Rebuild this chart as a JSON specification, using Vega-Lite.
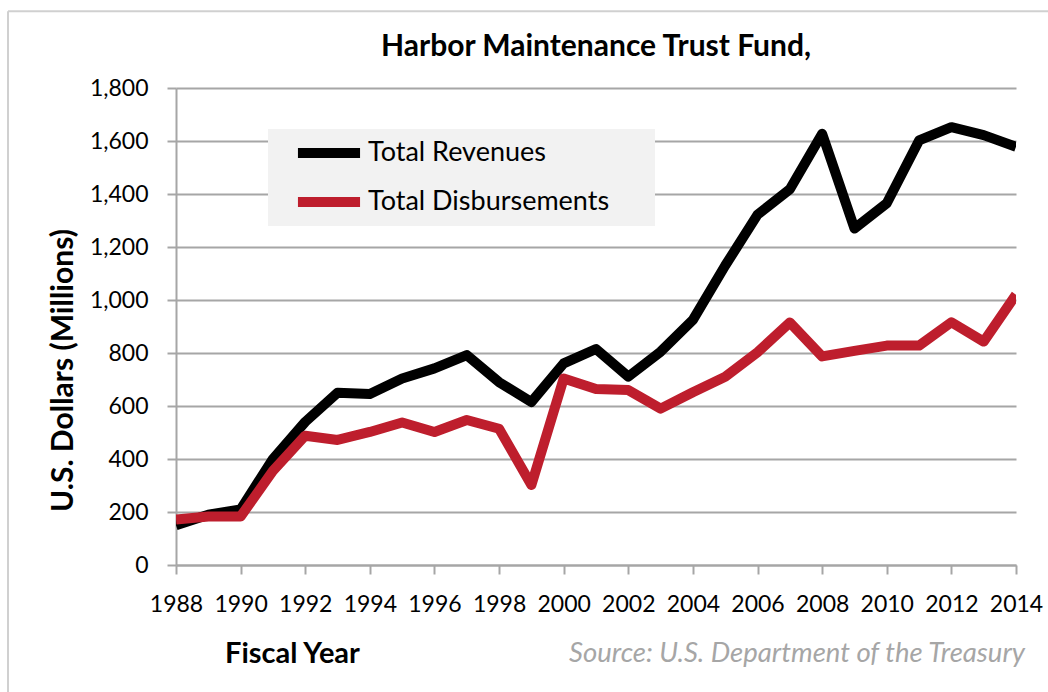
{
  "$schema": "https://vega.github.io/schema/vega-lite/v6.json",
  "autosize": "none",
  "width": 840,
  "height": 477,
  "padding": {"left": 176, "top": 88, "right": 32, "bottom": 127},
  "background": "#ffffff",
  "title": {
    "text": "Harbor Maintenance Trust Fund,",
    "font": "Lato",
    "fontSize": 30,
    "fontWeight": "bold",
    "color": "#000000",
    "anchor": "middle",
    "baseline": "alphabetic",
    "offset": -76
  },
  "data": {
    "values": [
      {"year": 1988, "series": "Total Revenues", "value": 150},
      {"year": 1989, "series": "Total Revenues", "value": 190},
      {"year": 1990, "series": "Total Revenues", "value": 210},
      {"year": 1991, "series": "Total Revenues", "value": 400},
      {"year": 1992, "series": "Total Revenues", "value": 540},
      {"year": 1993, "series": "Total Revenues", "value": 650},
      {"year": 1994, "series": "Total Revenues", "value": 645},
      {"year": 1995, "series": "Total Revenues", "value": 704},
      {"year": 1996, "series": "Total Revenues", "value": 742},
      {"year": 1997, "series": "Total Revenues", "value": 792},
      {"year": 1998, "series": "Total Revenues", "value": 690},
      {"year": 1999, "series": "Total Revenues", "value": 615},
      {"year": 2000, "series": "Total Revenues", "value": 761},
      {"year": 2001, "series": "Total Revenues", "value": 815},
      {"year": 2002, "series": "Total Revenues", "value": 711},
      {"year": 2003, "series": "Total Revenues", "value": 805},
      {"year": 2004, "series": "Total Revenues", "value": 925},
      {"year": 2005, "series": "Total Revenues", "value": 1130},
      {"year": 2006, "series": "Total Revenues", "value": 1322},
      {"year": 2007, "series": "Total Revenues", "value": 1418},
      {"year": 2008, "series": "Total Revenues", "value": 1627},
      {"year": 2009, "series": "Total Revenues", "value": 1270},
      {"year": 2010, "series": "Total Revenues", "value": 1365},
      {"year": 2011, "series": "Total Revenues", "value": 1602},
      {"year": 2012, "series": "Total Revenues", "value": 1652},
      {"year": 2013, "series": "Total Revenues", "value": 1622},
      {"year": 2014, "series": "Total Revenues", "value": 1578},
      {"year": 1988, "series": "Total Disbursements", "value": 172},
      {"year": 1989, "series": "Total Disbursements", "value": 183},
      {"year": 1990, "series": "Total Disbursements", "value": 183},
      {"year": 1991, "series": "Total Disbursements", "value": 355},
      {"year": 1992, "series": "Total Disbursements", "value": 488},
      {"year": 1993, "series": "Total Disbursements", "value": 472},
      {"year": 1994, "series": "Total Disbursements", "value": 502},
      {"year": 1995, "series": "Total Disbursements", "value": 538},
      {"year": 1996, "series": "Total Disbursements", "value": 502},
      {"year": 1997, "series": "Total Disbursements", "value": 547},
      {"year": 1998, "series": "Total Disbursements", "value": 514},
      {"year": 1999, "series": "Total Disbursements", "value": 302},
      {"year": 2000, "series": "Total Disbursements", "value": 704},
      {"year": 2001, "series": "Total Disbursements", "value": 664},
      {"year": 2002, "series": "Total Disbursements", "value": 660},
      {"year": 2003, "series": "Total Disbursements", "value": 590},
      {"year": 2004, "series": "Total Disbursements", "value": 652},
      {"year": 2005, "series": "Total Disbursements", "value": 710},
      {"year": 2006, "series": "Total Disbursements", "value": 803},
      {"year": 2007, "series": "Total Disbursements", "value": 915},
      {"year": 2008, "series": "Total Disbursements", "value": 787},
      {"year": 2009, "series": "Total Disbursements", "value": 808},
      {"year": 2010, "series": "Total Disbursements", "value": 828},
      {"year": 2011, "series": "Total Disbursements", "value": 828},
      {"year": 2012, "series": "Total Disbursements", "value": 916},
      {"year": 2013, "series": "Total Disbursements", "value": 843},
      {"year": 2014, "series": "Total Disbursements", "value": 1020}
    ]
  },
  "layer": [
    {
      "data": {"values": [{"edge": "frame"}]},
      "mark": {"type": "rule", "color": "#d0d0d0", "strokeWidth": 2},
      "encoding": {
        "x": {"datum": 1982.8},
        "x2": {"datum": 2016},
        "y": {"datum": 2090}
      }
    },
    {
      "data": {"values": [{"edge": "frame"}]},
      "mark": {"type": "rule", "color": "#d0d0d0", "strokeWidth": 2},
      "encoding": {
        "x": {"datum": 1982.8},
        "y": {"datum": 2090},
        "y2": {"datum": -520}
      }
    },
    {
      "transform": [{"filter": "datum.series === 'Total Revenues'"}],
      "mark": {"type": "line", "strokeWidth": 10, "strokeJoin": "round", "strokeCap": "butt", "clip": true},
      "encoding": {
        "x": {
          "field": "year",
          "type": "quantitative",
          "scale": {"domain": [1988, 2014], "nice": false, "zero": false},
          "axis": {
            "values": [1988, 1989, 1990, 1991, 1992, 1993, 1994, 1995, 1996, 1997, 1998, 1999, 2000, 2001, 2002, 2003, 2004, 2005, 2006, 2007, 2008, 2009, 2010, 2011, 2012, 2013, 2014],
            "labelExpr": "datum.value % 2 === 0 ? '' + datum.value : ''",
            "grid": false,
            "tickSize": 9,
            "tickColor": "#a6a6a6",
            "tickWidth": 2,
            "domainColor": "#a6a6a6",
            "domainWidth": 2,
            "labelFont": "Lato",
            "labelFontSize": 23,
            "labelColor": "#000000",
            "labelBaseline": "alphabetic",
            "labelPadding": 37.7,
            "labelFlush": false,
            "labelOverlap": false,
            "title": "Fiscal Year",
            "titleFont": "Lato",
            "titleFontSize": 29,
            "titleFontWeight": "bold",
            "titleColor": "#000000",
            "titleX": 116,
            "titleY": 97,
            "titleAlign": "center",
            "titleBaseline": "alphabetic"
          }
        },
        "y": {
          "field": "value",
          "type": "quantitative",
          "scale": {"domain": [0, 1800], "nice": false, "zero": false},
          "axis": {
            "values": [0, 200, 400, 600, 800, 1000, 1200, 1400, 1600, 1800],
            "format": ",d",
            "grid": true,
            "gridColor": "#a6a6a6",
            "gridWidth": 2,
            "tickSize": 9,
            "tickColor": "#a6a6a6",
            "tickWidth": 2,
            "domainColor": "#a6a6a6",
            "domainWidth": 2,
            "labelFont": "Lato",
            "labelFontSize": 23,
            "labelColor": "#000000",
            "labelPadding": 19,
            "labelOverlap": false,
            "title": "U.S. Dollars (Millions)",
            "titleFont": "Lato",
            "titleFontSize": 30,
            "titleFontWeight": "bold",
            "titleColor": "#000000",
            "titleAngle": -90,
            "titleX": -104,
            "titleY": 282,
            "titleAlign": "center",
            "titleBaseline": "alphabetic"
          }
        },
        "color": {
          "field": "series",
          "type": "nominal",
          "scale": {"domain": ["Total Revenues", "Total Disbursements"], "range": ["#000000", "#be1e2d"]},
          "legend": {
            "orient": "none",
            "legendX": 92,
            "legendY": 41,
            "title": null,
            "fillColor": "#f2f2f2",
            "padding": 4,
            "symbolType": "M-2.07,0H2.07",
            "symbolSize": 900,
            "symbolStrokeWidth": 10,
            "symbolOffset": 37,
            "labelOffset": 19,
            "rowPadding": 9,
            "labelFont": "Lato",
            "labelFontSize": 27,
            "labelColor": "#000000",
            "labelLimit": 600,
            "labelExpr": "datum.label + '\u00a0\u00a0\u00a0\u00a0\u00a0\u00a0\u200b'"
          }
        }
      }
    },
    {
      "transform": [{"filter": "datum.series === 'Total Disbursements'"}],
      "mark": {"type": "line", "strokeWidth": 10, "strokeJoin": "round", "strokeCap": "butt", "clip": true},
      "encoding": {
        "x": {"field": "year", "type": "quantitative"},
        "y": {"field": "value", "type": "quantitative"},
        "color": {"field": "series", "type": "nominal"}
      }
    },
    {
      "data": {"values": [{"note": "Source: U.S. Department of the Treasury"}]},
      "mark": {"type": "text", "font": "Lato", "fontSize": 27.5, "fontStyle": "italic", "color": "#a6a6a6", "align": "right", "baseline": "alphabetic", "dx": 9},
      "encoding": {
        "x": {"datum": 2014},
        "y": {"datum": -365},
        "text": {"field": "note"}
      }
    }
  ],
  "config": {
    "view": {"stroke": null}
  }
}
